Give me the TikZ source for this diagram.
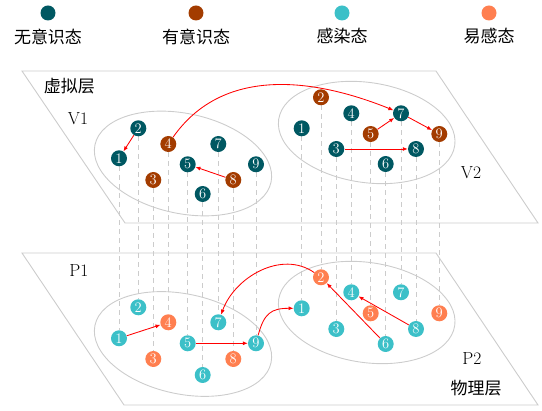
\documentclass[tikz,border=0pt]{standalone}
\usepackage{fontspec}
\newfontfamily\cjk{Noto Sans CJK SC}
\usetikzlibrary{arrows.meta,backgrounds}
\definecolor{dteal}{RGB}{0,88,98}
\definecolor{dbrown}{RGB}{163,60,0}
\definecolor{lcyan}{RGB}{60,192,200}
\definecolor{lorange}{RGB}{255,127,80}
\definecolor{lgray}{RGB}{204,204,204}
\tikzset{
  nd/.style={circle,inner sep=0pt,minimum size=16pt,text=white,font=\fontsize{14.5}{14.5}\selectfont},
  ndt/.style={nd,fill=dteal},
  ndb/.style={nd,fill=dbrown},
  ndc/.style={nd,fill=lcyan},
  ndo/.style={nd,fill=lorange},
  lgd/.style={circle,inner sep=0pt,minimum size=15pt},
  cjklab/.style={font=\cjk\fontsize{17}{17}\selectfont},
  latlab/.style={font=\fontsize{17.5}{17.5}\selectfont},
  plane/.style={draw=lgray,line width=0.9pt},
  vconn/.style={draw=lgray,line width=0.9pt,dash pattern=on 5pt off 4pt},
  arr/.style={draw=red,line width=0.85pt,-{Latex[length=5pt,width=4pt]}},
}
\begin{document}
\begin{tikzpicture}[x=1pt,y=1pt]
\useasboundingbox (0,0) rectangle (542,-411);
% legend
\node[lgd,fill=dteal] (lg1) at (48,-13) {};
\node[lgd,fill=dbrown] (lg2) at (196,-13) {};
\node[lgd,fill=lcyan] (lg3) at (342,-13) {};
\node[lgd,fill=lorange] (lg4) at (489,-13) {};
\node[cjklab] (lt1) at (48,-36.5) {无意识态};
\node[cjklab] (lt2) at (196,-36.5) {有意识态};
\node[cjklab] (lt3) at (342,-36.5) {感染态};
\node[cjklab] (lt4) at (489,-36.5) {易感态};
% labels
\node[cjklab] (vl) at (69.5,-86) {虚拟层};
\node[latlab] (v1l) at (78,-118.5) {V1};
\node[latlab] (v2l) at (471,-173) {V2};
\node[latlab] (p1l) at (79,-271) {P1};
\node[latlab] (p2l) at (472,-359) {P2};
\node[cjklab] (pl) at (476,-388) {物理层};
% V1 nodes
\node[ndt] (v11) at (119,-158.3) {1};
\node[ndt] (v12) at (138.3,-128.3) {2};
\node[ndb] (v13) at (153.3,-180) {3};
\node[ndb] (v14) at (168.3,-144) {4};
\node[ndt] (v15) at (187.7,-164.3) {5};
\node[ndt] (v16) at (202.7,-194) {6};
\node[ndt] (v17) at (218.3,-144) {7};
\node[ndb] (v18) at (233.3,-180) {8};
\node[ndt] (v19) at (256,-164.3) {9};
% V2 nodes
\node[ndt] (v21) at (301.7,-128.3) {1};
\node[ndb] (v22) at (321,-97.3) {2};
\node[ndt] (v23) at (336.3,-149) {3};
\node[ndt] (v24) at (351.3,-113.3) {4};
\node[ndb] (v25) at (370.7,-134) {5};
\node[ndt] (v26) at (385.7,-164) {6};
\node[ndt] (v27) at (401,-113.3) {7};
\node[ndt] (v28) at (416,-149) {8};
\node[ndb] (v29) at (439.3,-134) {9};
% P1 nodes
\node[ndc] (p11) at (119,-338.3) {1};
\node[ndc] (p12) at (138.3,-307.3) {2};
\node[ndo] (p13) at (153.3,-359) {3};
\node[ndo] (p14) at (168.3,-322.3) {4};
\node[ndc] (p15) at (187.7,-343.3) {5};
\node[ndc] (p16) at (202.7,-375) {6};
\node[ndc] (p17) at (218.3,-322.3) {7};
\node[ndo] (p18) at (233.3,-359) {8};
\node[ndc] (p19) at (256,-343.3) {9};
% P2 nodes
\node[ndc] (p21) at (301.7,-308.3) {1};
\node[ndo] (p22) at (321,-277.3) {2};
\node[ndc] (p23) at (336.3,-329) {3};
\node[ndc] (p24) at (351.3,-292.3) {4};
\node[ndo] (p25) at (370.7,-313.3) {5};
\node[ndc] (p26) at (385.7,-344) {6};
\node[ndc] (p27) at (401,-292.3) {7};
\node[ndc] (p28) at (416,-329) {8};
\node[ndo] (p29) at (439.3,-313.3) {9};
\begin{scope}[on background layer]
  \draw[plane] (22,-71) -- (436,-71) -- (538,-223) -- (125,-223) -- cycle;
  \draw[plane] (22,-253) -- (436,-253) -- (538,-405) -- (124,-405) -- cycle;
  \draw[plane] (183,-163.5) ellipse[x radius=90, y radius=50, rotate=-12];
  \draw[plane] (366.7,-132.5) ellipse[x radius=89, y radius=50, rotate=-8.5];
  \draw[plane] (183,-344) ellipse[x radius=90, y radius=50, rotate=-12];
  \draw[plane] (366.7,-312.5) ellipse[x radius=89, y radius=50, rotate=-8.5];
  \foreach \i in {1,...,9}{
    \draw[vconn] (v1\i) -- (p1\i);
    \draw[vconn] (v2\i) -- (p2\i);
  }
\end{scope}
% arrows virtual
\draw[arr] (v12) -- (v11);
\draw[arr] (v18) -- (v15);
\draw[arr] (v14) to[out=55,in=158] (v27);
\draw[arr] (v25) -- (v27);
\draw[arr] (v27) -- (v29);
\draw[arr] (v23) -- (v28);
% arrows physical
\draw[arr] (p11) -- (p14);
\draw[arr] (p15) -- (p19);
\draw[arr] (p19) to[out=75,in=180,looseness=1.3] (p21);
\draw[arr] (p22) to[out=145,in=70] (p17);
\draw[arr] (p26) -- (p22);
\draw[arr] (p28) -- (p24);
\end{tikzpicture}
\end{document}
